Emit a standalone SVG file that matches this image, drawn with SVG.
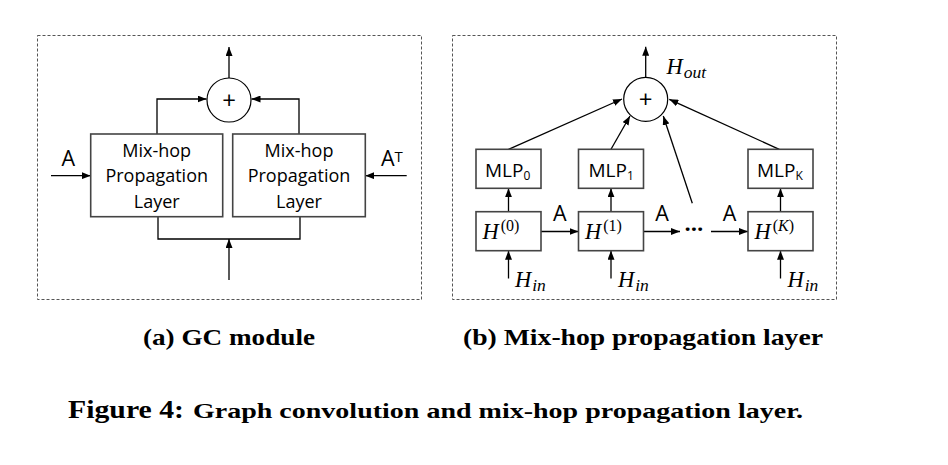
<svg xmlns="http://www.w3.org/2000/svg" width="948" height="465" viewBox="0 0 948 465">
<defs>
<marker id="ah" markerWidth="9" markerHeight="7" refX="9" refY="3.5" orient="auto" markerUnits="userSpaceOnUse">
<path d="M0,0 L9,3.5 L0,7 z" fill="#000"/>
</marker>
<style>
.frame{fill:none;stroke:#555;stroke-width:1;stroke-dasharray:3,2}
.box{fill:#fff;stroke:#444;stroke-width:1.6}
.circ{fill:#fff;stroke:#000;stroke-width:1.2}
.ln{fill:none;stroke:#000;stroke-width:1.3}
.arr{fill:none;stroke:#000;stroke-width:1.3;marker-end:url(#ah)}
.lbl{font-family:"Open Sans","Liberation Sans",sans-serif;font-size:18px;fill:#000;text-anchor:middle}
.sans{font-family:"Open Sans","Liberation Sans",sans-serif;fill:#000}
.math{font-family:"Liberation Serif","DejaVu Serif",serif;font-style:italic;fill:#000}
.cap{font-family:"Liberation Serif","Times New Roman",serif;font-weight:bold;fill:#000}
</style>
</defs>
<rect width="948" height="465" fill="#fff"/>

<rect class="frame" x="37.5" y="35.5" width="384" height="264"/>
<rect class="frame" x="452.5" y="35.5" width="384" height="264"/>

<g id="connectors">
<line class="arr" x1="229" y1="78" x2="229" y2="47"/>
<path class="arr" d="M157,134 V99 H206.5"/>
<path class="arr" d="M299,134 V99 H251.5"/>
<path class="ln" d="M158,217 V239 H300 V217"/>
<line class="arr" x1="229" y1="280" x2="229" y2="239"/>
<line class="arr" x1="51" y1="175.7" x2="90.7" y2="175.7"/>
<line class="arr" x1="406.7" y1="175.7" x2="365.3" y2="175.7"/>
<line class="arr" x1="645.7" y1="77.3" x2="645.7" y2="46.7"/>
<line class="arr" x1="508.5" y1="149.3" x2="622" y2="99"/>
<line class="arr" x1="611" y1="149.3" x2="630" y2="116"/>
<line class="arr" x1="692.3" y1="203.3" x2="663.3" y2="116"/>
<line class="arr" x1="779.3" y1="149.3" x2="669.3" y2="99.3"/>
<line class="arr" x1="508.5" y1="211.7" x2="508.5" y2="188.3"/>
<line class="arr" x1="611" y1="211.7" x2="611" y2="188.3"/>
<line class="arr" x1="780.5" y1="211.7" x2="780.5" y2="188.3"/>
<line class="arr" x1="508.5" y1="278.5" x2="508.5" y2="250.7"/>
<line class="arr" x1="611" y1="278.5" x2="611" y2="250.7"/>
<line class="arr" x1="780.5" y1="278.5" x2="780.5" y2="250.7"/>
<line class="arr" x1="541" y1="231.5" x2="578.5" y2="231.5"/>
<line class="arr" x1="643.5" y1="231.5" x2="680" y2="231.5"/>
<line class="arr" x1="711" y1="231.5" x2="748" y2="231.5"/>
</g>

<g id="sum-a">
<circle class="circ" cx="229" cy="100" r="22"/>
<text class="sans" x="229" y="109" font-size="24" text-anchor="middle" font-family="Liberation Sans">+</text>
</g>
<g id="mixhop-left">
<rect class="box" x="90.7" y="134" width="132" height="82.7"/>
<text class="lbl" x="156.7" y="156.7">Mix-hop</text>
<text class="lbl" x="156.7" y="182">Propagation</text>
<text class="lbl" x="156.7" y="208">Layer</text>
</g>
<g id="mixhop-right">
<rect class="box" x="232.7" y="134" width="132.6" height="82.7"/>
<text class="lbl" x="299" y="156.7">Mix-hop</text>
<text class="lbl" x="299" y="182">Propagation</text>
<text class="lbl" x="299" y="208">Layer</text>
</g>
<g id="label-A">
<text class="sans" x="61.5" y="166" font-size="21.5">A</text>
</g>
<g id="label-AT">
<text class="sans" x="381" y="166" font-size="21.5">A<tspan font-size="15" dy="-4.5">T</tspan></text>
</g>

<g id="sum-b">
<circle class="circ" cx="645.7" cy="99.3" r="22"/>
<text class="sans" x="645.7" y="108.3" font-size="24" text-anchor="middle" font-family="Liberation Sans">+</text>
</g>
<g id="hout">
<text class="math" x="666.5" y="74.3" font-size="22.5">H<tspan font-size="17.5" dy="4" dx="1">out</tspan></text>
</g>
<g id="mlp0">
<rect class="box" x="476" y="149.3" width="65" height="39"/>
<text class="sans" x="485" y="176.7" font-size="19">MLP<tspan font-size="12" dy="3">0</tspan></text>
</g>
<g id="mlp1">
<rect class="box" x="578.5" y="149.3" width="65" height="39"/>
<text class="sans" x="588.5" y="176.7" font-size="19">MLP<tspan font-size="12" dy="3">1</tspan></text>
</g>
<g id="mlpk">
<rect class="box" x="748" y="149.3" width="65" height="39"/>
<text class="sans" x="757" y="176.7" font-size="19">MLP<tspan font-size="12" dy="3">K</tspan></text>
</g>
<g id="h0">
<rect class="box" x="476" y="211.7" width="65" height="39"/>
<text class="math" x="482.5" y="238.5" font-size="22.5">H<tspan font-style="normal" font-size="16" dx="2" dy="-8">(0)</tspan></text>
</g>
<g id="h1">
<rect class="box" x="578.5" y="211.7" width="65" height="39"/>
<text class="math" x="585" y="238.5" font-size="22.5">H<tspan font-style="normal" font-size="16" dx="2" dy="-8">(1)</tspan></text>
</g>
<g id="hk">
<rect class="box" x="748" y="211.7" width="65" height="39"/>
<text class="math" x="754.5" y="238.5" font-size="22.5">H<tspan font-style="normal" font-size="16" dx="2" dy="-8">(<tspan font-style="italic">K</tspan>)</tspan></text>
</g>
<g id="edge-labels">
<text class="sans" x="559.7" y="220.5" font-size="21.5" text-anchor="middle">A</text>
<text class="sans" x="662" y="220.5" font-size="21.5" text-anchor="middle">A</text>
<text class="sans" x="729.5" y="220.5" font-size="21.5" text-anchor="middle">A</text>
<text class="sans" x="684.5" y="231" font-size="22" font-weight="bold">…</text>
</g>
<g id="hin">
<text class="math" x="515" y="286.5" font-size="22.5">H<tspan font-size="17.5" dy="4" dx="1">in</tspan></text>
<text class="math" x="618" y="286.5" font-size="22.5">H<tspan font-size="17.5" dy="4" dx="1">in</tspan></text>
<text class="math" x="787.5" y="286.5" font-size="22.5">H<tspan font-size="17.5" dy="4" dx="1">in</tspan></text>
</g>

<text class="cap" x="143" y="345" font-size="23" textLength="172" lengthAdjust="spacingAndGlyphs">(a) GC module</text>
<text class="cap" x="463" y="345" font-size="23" textLength="360" lengthAdjust="spacingAndGlyphs">(b) Mix-hop propagation layer</text>
<text class="cap" x="68" y="418" font-size="25" textLength="116" lengthAdjust="spacingAndGlyphs">Figure 4:</text>
<text class="cap" x="193" y="418" font-size="22" textLength="610" lengthAdjust="spacingAndGlyphs">Graph convolution and mix-hop propagation layer.</text>
</svg>
